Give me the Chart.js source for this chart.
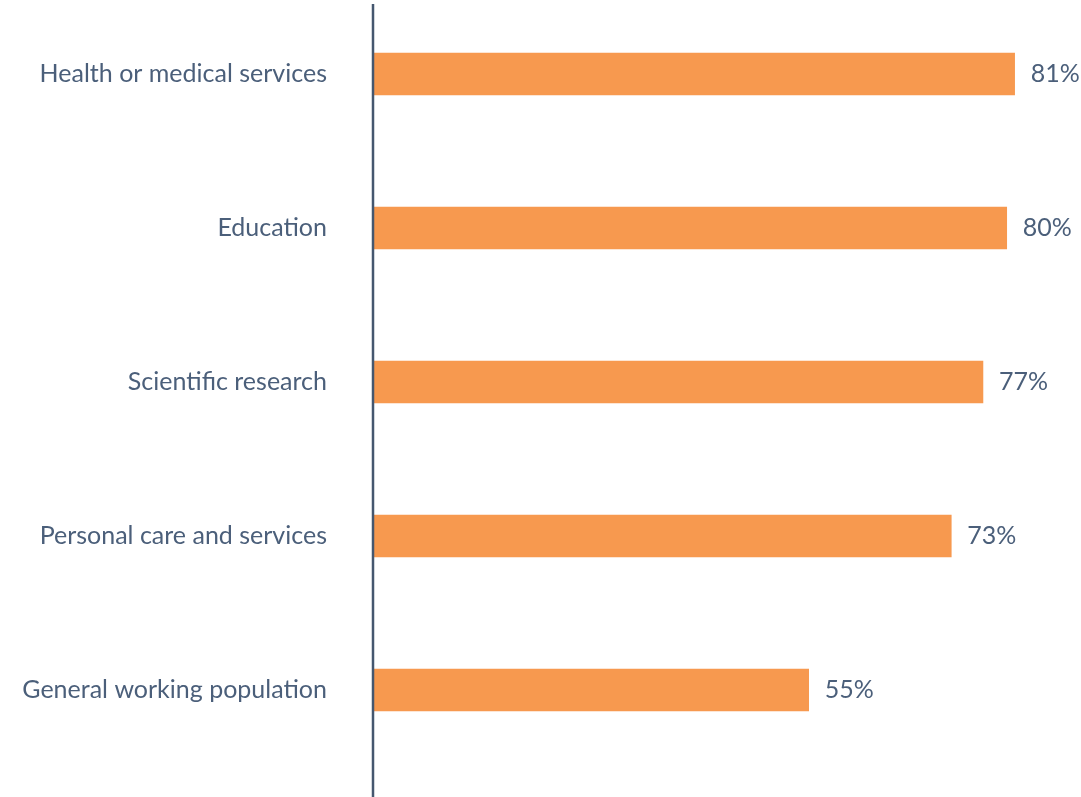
<!DOCTYPE html>
<html>
<head>
<meta charset="utf-8">
<script src="https://cdn.jsdelivr.net/npm/chart.js@4"></script>
<style>
    body { margin: 0; background: #ffffff; overflow: hidden; }
    #wrap { position: absolute; left: 0; top: -3px; width: 1081px; height: 800px; }
</style>
</head>
<body>
<div id="wrap"><canvas id="chartCanvas"></canvas></div>
<script>
const categories = [
    "Health or medical services",
    "Education",
    "Scientific research",
    "Personal care and services",
    "General working population"
];

const shares = [81, 80, 77, 73, 55];

const textColor = "#4b5f7a";

// draws the "81%" style labels just past the end of each bar
const valueLabels = {
    id: "valueLabels",
    afterDatasetsDraw(chart) {
        const ctx = chart.ctx;
        const meta = chart.getDatasetMeta(0);
        ctx.save();
        ctx.font = "25px Lato";
        ctx.fillStyle = textColor;
        ctx.textAlign = "left";
        ctx.textBaseline = "middle";
        meta.data.forEach((bar, i) => {
            ctx.fillText(shares[i] + "%", bar.x + 16, bar.y);
        });
        ctx.restore();
    }
};

// the left axis line runs the full height of the picture
const axisLine = {
    id: "axisLine",
    afterDraw(chart) {
        const ctx = chart.ctx;
        const x = chart.chartArea.left;
        ctx.save();
        ctx.strokeStyle = "#45576f";
        ctx.lineWidth = 2.5;
        ctx.beginPath();
        ctx.moveTo(x, 7);
        ctx.lineTo(x, chart.height);
        ctx.stroke();
        ctx.restore();
    }
};

const ctx =
    document
    .getElementById("chartCanvas")
    .getContext("2d");

new Chart(ctx, {
    type: "bar",
    data: {
        labels: categories,
        datasets: [{
            data: shares,
            backgroundColor: "#f7994f",
            barThickness: 42
        }]
    },
    options: {
        indexAxis: "y",
        responsive: true,
        maintainAspectRatio: false,
        animation: false,
        layout: {
            padding: { top: 0, right: 3, bottom: 30, left: 0 }
        },
        plugins: {
            legend: { display: false },
            tooltip: { enabled: false }
        },
        scales: {
            x: {
                display: false,
                min: 0,
                max: 89
            },
            y: {
                afterFit(scale) {
                    scale.width = 373;
                    scale.paddingTop = 0;
                    scale.paddingBottom = 0;
                },
                grid: { display: false, drawTicks: false },
                border: { display: false },
                ticks: {
                    color: textColor,
                    padding: 46,
                    font: { family: "Lato", size: 25 }
                }
            }
        }
    },
    plugins: [valueLabels, axisLine]
});
</script>
</body>
</html>
